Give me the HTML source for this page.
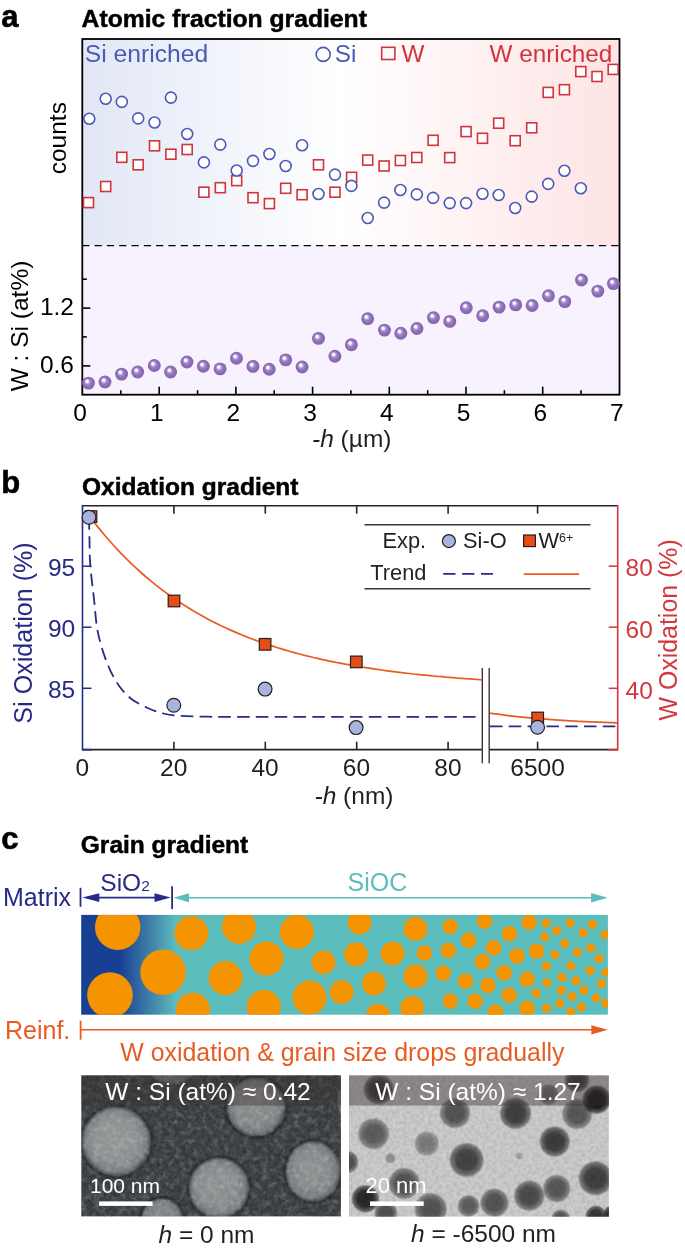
<!DOCTYPE html>
<html><head><meta charset="utf-8"><title>Gradient figure</title>
<style>
html,body{margin:0;padding:0;background:#fff;}
body{width:685px;height:1251px;overflow:hidden;}
svg{display:block;font-family:"Liberation Sans", sans-serif;will-change:transform;}
</style></head>
<body>
<svg width="685" height="1251" viewBox="0 0 685 1251">
<defs>
<linearGradient id="gtop" x1="0" x2="1" y1="0" y2="0">
 <stop offset="0" stop-color="#e1e7f5"/><stop offset="0.48" stop-color="#ffffff"/><stop offset="1" stop-color="#fee3e4"/>
</linearGradient>
<radialGradient id="gsph" cx="0.5" cy="0.5" r="0.5" fx="0.36" fy="0.32">
 <stop offset="0" stop-color="#ffffff"/><stop offset="0.17" stop-color="#fcfafd"/><stop offset="0.42" stop-color="#a58bc9"/>
 <stop offset="0.68" stop-color="#8e6eb8"/><stop offset="1" stop-color="#8464b0"/>
</radialGradient>
<linearGradient id="gbar" x1="0" x2="1" y1="0" y2="0">
 <stop offset="0" stop-color="#173f94"/><stop offset="0.072" stop-color="#173f94"/><stop offset="0.13" stop-color="#3f7fa8"/>
 <stop offset="0.18" stop-color="#5cbdbd"/><stop offset="1" stop-color="#5cbdbd"/>
</linearGradient>
<radialGradient id="pd"><stop offset="0" stop-color="#000"/><stop offset="0.55" stop-color="#000" stop-opacity="0.95"/><stop offset="0.85" stop-color="#000" stop-opacity="0.6"/><stop offset="1" stop-color="#000" stop-opacity="0"/></radialGradient>
<radialGradient id="pw" fx="0.45" fy="0.42"><stop offset="0" stop-color="#fff"/><stop offset="0.6" stop-color="#fff" stop-opacity="0.93"/><stop offset="0.86" stop-color="#fff" stop-opacity="0.74"/><stop offset="0.97" stop-color="#fff" stop-opacity="0.25"/><stop offset="1" stop-color="#fff" stop-opacity="0"/></radialGradient>
<radialGradient id="halo"><stop offset="0.8" stop-color="#000" stop-opacity="0"/><stop offset="0.9" stop-color="#000" stop-opacity="0.25"/><stop offset="1" stop-color="#000" stop-opacity="0"/></radialGradient>
<clipPath id="cbar"><rect x="81.2" y="914.9" width="526.7" height="99.8"/></clipPath>
<clipPath id="cm1"><rect x="81.2" y="1075.2" width="259.7" height="141.2"/></clipPath>
<clipPath id="cm2"><rect x="349.0" y="1075.2" width="259.9" height="141.5"/></clipPath>
<filter id="blur1" x="-20%" y="-20%" width="140%" height="140%"><feGaussianBlur stdDeviation="1.6"/></filter>
<filter id="blur2" x="-20%" y="-20%" width="140%" height="140%"><feGaussianBlur stdDeviation="1.2"/></filter>
<filter id="noise2" x="0" y="0" width="100%" height="100%">
 <feTurbulence type="fractalNoise" baseFrequency="0.16" numOctaves="3" seed="7"/>
 <feColorMatrix type="matrix" values="0 0 0 0 1  0 0 0 0 1  0 0 0 0 1  2.2 0 0 0 -1.0" />
</filter>
<filter id="noise1" x="0" y="0" width="100%" height="100%">
 <feTurbulence type="fractalNoise" baseFrequency="0.28" numOctaves="2" seed="3" result="n"/>
 <feColorMatrix type="matrix" values="0 0 0 0 0  0 0 0 0 0  0 0 0 0 0  0 0 0 -1.1 0.75" />
</filter>
</defs>
<rect x="82.3" y="39.0" width="537.2" height="206.0" fill="url(#gtop)"/>
<rect x="82.3" y="245.0" width="537.2" height="149.7" fill="#f7f2fe"/>
<line x1="82.3" y1="245.6" x2="619.5" y2="245.6" stroke="#000" stroke-width="1.3" stroke-dasharray="7.2 5.1"/>
<rect x="82.3" y="39.0" width="537.2" height="355.7" fill="none" stroke="#000" stroke-width="1.8"/>
<line x1="120.8" y1="394.7" x2="120.8" y2="390.2" stroke="#000" stroke-width="1.6"/>
<line x1="159.2" y1="394.7" x2="159.2" y2="386.7" stroke="#000" stroke-width="1.6"/>
<line x1="197.6" y1="394.7" x2="197.6" y2="390.2" stroke="#000" stroke-width="1.6"/>
<line x1="235.9" y1="394.7" x2="235.9" y2="386.7" stroke="#000" stroke-width="1.6"/>
<line x1="274.2" y1="394.7" x2="274.2" y2="390.2" stroke="#000" stroke-width="1.6"/>
<line x1="312.6" y1="394.7" x2="312.6" y2="386.7" stroke="#000" stroke-width="1.6"/>
<line x1="350.9" y1="394.7" x2="350.9" y2="390.2" stroke="#000" stroke-width="1.6"/>
<line x1="389.3" y1="394.7" x2="389.3" y2="386.7" stroke="#000" stroke-width="1.6"/>
<line x1="427.7" y1="394.7" x2="427.7" y2="390.2" stroke="#000" stroke-width="1.6"/>
<line x1="466.0" y1="394.7" x2="466.0" y2="386.7" stroke="#000" stroke-width="1.6"/>
<line x1="504.4" y1="394.7" x2="504.4" y2="390.2" stroke="#000" stroke-width="1.6"/>
<line x1="542.7" y1="394.7" x2="542.7" y2="386.7" stroke="#000" stroke-width="1.6"/>
<line x1="581.0" y1="394.7" x2="581.0" y2="390.2" stroke="#000" stroke-width="1.6"/>
<line x1="82.3" y1="279.2" x2="86.8" y2="279.2" stroke="#000" stroke-width="1.6"/>
<line x1="82.3" y1="308.1" x2="90.3" y2="308.1" stroke="#000" stroke-width="1.6"/>
<line x1="82.3" y1="336.9" x2="86.8" y2="336.9" stroke="#000" stroke-width="1.6"/>
<line x1="82.3" y1="365.9" x2="90.3" y2="365.9" stroke="#000" stroke-width="1.6"/>
<rect x="83.5" y="197.6" width="10" height="10" fill="#fff" stroke="#d1343a" stroke-width="1.6"/>
<rect x="100.7" y="181.5" width="10" height="10" fill="#fff" stroke="#d1343a" stroke-width="1.6"/>
<rect x="116.8" y="152.3" width="10" height="10" fill="#fff" stroke="#d1343a" stroke-width="1.6"/>
<rect x="133.2" y="159.8" width="10" height="10" fill="#fff" stroke="#d1343a" stroke-width="1.6"/>
<rect x="149.5" y="140.8" width="10" height="10" fill="#fff" stroke="#d1343a" stroke-width="1.6"/>
<rect x="165.9" y="149.2" width="10" height="10" fill="#fff" stroke="#d1343a" stroke-width="1.6"/>
<rect x="182.2" y="144.5" width="10" height="10" fill="#fff" stroke="#d1343a" stroke-width="1.6"/>
<rect x="198.9" y="187.2" width="10" height="10" fill="#fff" stroke="#d1343a" stroke-width="1.6"/>
<rect x="215.3" y="182.7" width="10" height="10" fill="#fff" stroke="#d1343a" stroke-width="1.6"/>
<rect x="231.7" y="175.6" width="10" height="10" fill="#fff" stroke="#d1343a" stroke-width="1.6"/>
<rect x="248.0" y="192.7" width="10" height="10" fill="#fff" stroke="#d1343a" stroke-width="1.6"/>
<rect x="264.4" y="198.6" width="10" height="10" fill="#fff" stroke="#d1343a" stroke-width="1.6"/>
<rect x="280.7" y="183.3" width="10" height="10" fill="#fff" stroke="#d1343a" stroke-width="1.6"/>
<rect x="297.1" y="189.7" width="10" height="10" fill="#fff" stroke="#d1343a" stroke-width="1.6"/>
<rect x="313.5" y="159.8" width="10" height="10" fill="#fff" stroke="#d1343a" stroke-width="1.6"/>
<rect x="330.0" y="187.2" width="10" height="10" fill="#fff" stroke="#d1343a" stroke-width="1.6"/>
<rect x="346.6" y="172.3" width="10" height="10" fill="#fff" stroke="#d1343a" stroke-width="1.6"/>
<rect x="362.7" y="155.1" width="10" height="10" fill="#fff" stroke="#d1343a" stroke-width="1.6"/>
<rect x="379.1" y="161.0" width="10" height="10" fill="#fff" stroke="#d1343a" stroke-width="1.6"/>
<rect x="395.4" y="155.5" width="10" height="10" fill="#fff" stroke="#d1343a" stroke-width="1.6"/>
<rect x="411.8" y="152.5" width="10" height="10" fill="#fff" stroke="#d1343a" stroke-width="1.6"/>
<rect x="428.1" y="135.3" width="10" height="10" fill="#fff" stroke="#d1343a" stroke-width="1.6"/>
<rect x="444.7" y="152.6" width="10" height="10" fill="#fff" stroke="#d1343a" stroke-width="1.6"/>
<rect x="461.1" y="126.6" width="10" height="10" fill="#fff" stroke="#d1343a" stroke-width="1.6"/>
<rect x="477.5" y="133.3" width="10" height="10" fill="#fff" stroke="#d1343a" stroke-width="1.6"/>
<rect x="493.7" y="118.2" width="10" height="10" fill="#fff" stroke="#d1343a" stroke-width="1.6"/>
<rect x="510.2" y="135.7" width="10" height="10" fill="#fff" stroke="#d1343a" stroke-width="1.6"/>
<rect x="526.7" y="122.8" width="10" height="10" fill="#fff" stroke="#d1343a" stroke-width="1.6"/>
<rect x="543.2" y="87.4" width="10" height="10" fill="#fff" stroke="#d1343a" stroke-width="1.6"/>
<rect x="559.4" y="84.7" width="10" height="10" fill="#fff" stroke="#d1343a" stroke-width="1.6"/>
<rect x="575.8" y="66.6" width="10" height="10" fill="#fff" stroke="#d1343a" stroke-width="1.6"/>
<rect x="592.0" y="71.5" width="10" height="10" fill="#fff" stroke="#d1343a" stroke-width="1.6"/>
<rect x="608.2" y="64.4" width="10" height="10" fill="#fff" stroke="#d1343a" stroke-width="1.6"/>
<circle cx="89.3" cy="118.8" r="5.5" fill="#fff" stroke="#4d5ab5" stroke-width="1.6"/>
<circle cx="105.7" cy="98.8" r="5.5" fill="#fff" stroke="#4d5ab5" stroke-width="1.6"/>
<circle cx="121.8" cy="101.9" r="5.5" fill="#fff" stroke="#4d5ab5" stroke-width="1.6"/>
<circle cx="138.2" cy="118.4" r="5.5" fill="#fff" stroke="#4d5ab5" stroke-width="1.6"/>
<circle cx="154.5" cy="122.5" r="5.5" fill="#fff" stroke="#4d5ab5" stroke-width="1.6"/>
<circle cx="170.9" cy="97.6" r="5.5" fill="#fff" stroke="#4d5ab5" stroke-width="1.6"/>
<circle cx="187.2" cy="134.0" r="5.5" fill="#fff" stroke="#4d5ab5" stroke-width="1.6"/>
<circle cx="203.9" cy="162.4" r="5.5" fill="#fff" stroke="#4d5ab5" stroke-width="1.6"/>
<circle cx="220.3" cy="144.6" r="5.5" fill="#fff" stroke="#4d5ab5" stroke-width="1.6"/>
<circle cx="236.7" cy="170.5" r="5.5" fill="#fff" stroke="#4d5ab5" stroke-width="1.6"/>
<circle cx="253.0" cy="160.9" r="5.5" fill="#fff" stroke="#4d5ab5" stroke-width="1.6"/>
<circle cx="269.4" cy="154.0" r="5.5" fill="#fff" stroke="#4d5ab5" stroke-width="1.6"/>
<circle cx="285.7" cy="166.0" r="5.5" fill="#fff" stroke="#4d5ab5" stroke-width="1.6"/>
<circle cx="302.1" cy="145.2" r="5.5" fill="#fff" stroke="#4d5ab5" stroke-width="1.6"/>
<circle cx="318.5" cy="194.0" r="5.5" fill="#fff" stroke="#4d5ab5" stroke-width="1.6"/>
<circle cx="335.0" cy="174.6" r="5.5" fill="#fff" stroke="#4d5ab5" stroke-width="1.6"/>
<circle cx="351.4" cy="185.9" r="5.5" fill="#fff" stroke="#4d5ab5" stroke-width="1.6"/>
<circle cx="367.7" cy="218.0" r="5.5" fill="#fff" stroke="#4d5ab5" stroke-width="1.6"/>
<circle cx="384.1" cy="202.6" r="5.5" fill="#fff" stroke="#4d5ab5" stroke-width="1.6"/>
<circle cx="400.4" cy="190.0" r="5.5" fill="#fff" stroke="#4d5ab5" stroke-width="1.6"/>
<circle cx="416.8" cy="194.4" r="5.5" fill="#fff" stroke="#4d5ab5" stroke-width="1.6"/>
<circle cx="433.1" cy="197.9" r="5.5" fill="#fff" stroke="#4d5ab5" stroke-width="1.6"/>
<circle cx="449.7" cy="203.1" r="5.5" fill="#fff" stroke="#4d5ab5" stroke-width="1.6"/>
<circle cx="466.1" cy="203.1" r="5.5" fill="#fff" stroke="#4d5ab5" stroke-width="1.6"/>
<circle cx="482.5" cy="193.7" r="5.5" fill="#fff" stroke="#4d5ab5" stroke-width="1.6"/>
<circle cx="498.7" cy="195.0" r="5.5" fill="#fff" stroke="#4d5ab5" stroke-width="1.6"/>
<circle cx="515.2" cy="208.0" r="5.5" fill="#fff" stroke="#4d5ab5" stroke-width="1.6"/>
<circle cx="531.7" cy="196.6" r="5.5" fill="#fff" stroke="#4d5ab5" stroke-width="1.6"/>
<circle cx="548.2" cy="183.9" r="5.5" fill="#fff" stroke="#4d5ab5" stroke-width="1.6"/>
<circle cx="564.4" cy="170.7" r="5.5" fill="#fff" stroke="#4d5ab5" stroke-width="1.6"/>
<circle cx="580.8" cy="188.3" r="5.5" fill="#fff" stroke="#4d5ab5" stroke-width="1.6"/>
<circle cx="88.5" cy="383.1" r="6.45" fill="url(#gsph)"/>
<circle cx="105.0" cy="382.0" r="6.45" fill="url(#gsph)"/>
<circle cx="121.6" cy="374.1" r="6.45" fill="url(#gsph)"/>
<circle cx="137.7" cy="372.0" r="6.45" fill="url(#gsph)"/>
<circle cx="154.3" cy="365.5" r="6.45" fill="url(#gsph)"/>
<circle cx="170.6" cy="372.0" r="6.45" fill="url(#gsph)"/>
<circle cx="187.0" cy="362.0" r="6.45" fill="url(#gsph)"/>
<circle cx="203.4" cy="366.3" r="6.45" fill="url(#gsph)"/>
<circle cx="220.1" cy="368.9" r="6.45" fill="url(#gsph)"/>
<circle cx="236.5" cy="358.2" r="6.45" fill="url(#gsph)"/>
<circle cx="253.0" cy="366.4" r="6.45" fill="url(#gsph)"/>
<circle cx="269.2" cy="369.3" r="6.45" fill="url(#gsph)"/>
<circle cx="285.7" cy="359.9" r="6.45" fill="url(#gsph)"/>
<circle cx="302.1" cy="367.0" r="6.45" fill="url(#gsph)"/>
<circle cx="318.5" cy="338.4" r="6.45" fill="url(#gsph)"/>
<circle cx="334.9" cy="356.2" r="6.45" fill="url(#gsph)"/>
<circle cx="351.4" cy="344.8" r="6.45" fill="url(#gsph)"/>
<circle cx="367.7" cy="318.7" r="6.45" fill="url(#gsph)"/>
<circle cx="384.5" cy="330.1" r="6.45" fill="url(#gsph)"/>
<circle cx="400.8" cy="333.2" r="6.45" fill="url(#gsph)"/>
<circle cx="417.0" cy="328.5" r="6.45" fill="url(#gsph)"/>
<circle cx="433.5" cy="317.6" r="6.45" fill="url(#gsph)"/>
<circle cx="449.8" cy="321.4" r="6.45" fill="url(#gsph)"/>
<circle cx="466.3" cy="307.7" r="6.45" fill="url(#gsph)"/>
<circle cx="482.7" cy="315.7" r="6.45" fill="url(#gsph)"/>
<circle cx="499.1" cy="307.1" r="6.45" fill="url(#gsph)"/>
<circle cx="515.7" cy="304.9" r="6.45" fill="url(#gsph)"/>
<circle cx="532.1" cy="305.5" r="6.45" fill="url(#gsph)"/>
<circle cx="548.5" cy="295.8" r="6.45" fill="url(#gsph)"/>
<circle cx="564.8" cy="301.6" r="6.45" fill="url(#gsph)"/>
<circle cx="581.5" cy="280.0" r="6.45" fill="url(#gsph)"/>
<circle cx="597.8" cy="291.1" r="6.45" fill="url(#gsph)"/>
<circle cx="613.4" cy="283.6" r="6.45" fill="url(#gsph)"/>
<text x="1.2" y="26.9" font-size="31" font-weight="bold" fill="#000" stroke="#000" stroke-width="0.6">a</text>
<text x="81.6" y="26.9" font-size="24.7" font-weight="bold" fill="#000" stroke="#000" stroke-width="0.5">Atomic fraction gradient</text>
<text x="84.8" y="62" font-size="24.7" fill="#4d5ab5">Si enriched</text>
<circle cx="323.2" cy="54.4" r="7.0" fill="none" stroke="#4d5ab5" stroke-width="1.6"/>
<text x="334.8" y="61.7" font-size="24.3" fill="#4d5ab5">Si</text>
<rect x="381.7" y="47.3" width="13.2" height="12.2" fill="none" stroke="#d1343a" stroke-width="1.6"/>
<text x="401.5" y="61.7" font-size="24.3" fill="#d1343a">W</text>
<text x="489.5" y="61.7" font-size="24.3" fill="#d1343a">W enriched</text>
<text transform="translate(66,138.2) rotate(-90)" text-anchor="middle" font-size="24.5" fill="#000">counts</text>
<text transform="translate(27.9,326) rotate(-90)" text-anchor="middle" font-size="24.5" fill="#000">W : Si (at%)</text>
<text x="74" y="315" text-anchor="end" font-size="24.5" fill="#000">1.2</text>
<text x="74" y="373" text-anchor="end" font-size="24.5" fill="#000">0.6</text>
<text x="80.0" y="421.2" text-anchor="middle" font-size="24.5" fill="#000">0</text>
<text x="156.7" y="421.2" text-anchor="middle" font-size="24.5" fill="#000">1</text>
<text x="233.4" y="421.2" text-anchor="middle" font-size="24.5" fill="#000">2</text>
<text x="310.1" y="421.2" text-anchor="middle" font-size="24.5" fill="#000">3</text>
<text x="386.8" y="421.2" text-anchor="middle" font-size="24.5" fill="#000">4</text>
<text x="463.5" y="421.2" text-anchor="middle" font-size="24.5" fill="#000">5</text>
<text x="540.2" y="421.2" text-anchor="middle" font-size="24.5" fill="#000">6</text>
<text x="616.9" y="421.2" text-anchor="middle" font-size="24.5" fill="#000">7</text>
<text x="312" y="446.6" font-size="24.5" fill="#231f20"><tspan font-style="italic">-h</tspan> (µm)</text>
<text x="1.2" y="492.7" font-size="31" font-weight="bold" fill="#000" stroke="#000" stroke-width="0.6">b</text>
<text x="82" y="494.5" font-size="24.5" font-weight="bold" fill="#000" stroke="#000" stroke-width="0.5">Oxidation gradient</text>
<line x1="82.5" y1="505.7" x2="617.7" y2="505.7" stroke="#2b2323" stroke-width="1.6"/>
<line x1="82.5" y1="749.7" x2="482.3" y2="749.7" stroke="#2b2323" stroke-width="1.7"/>
<line x1="489.2" y1="749.7" x2="617.7" y2="749.7" stroke="#2b2323" stroke-width="1.7"/>
<line x1="82.5" y1="749.7" x2="92.0" y2="749.7" stroke="#272b88" stroke-width="1.7"/>
<line x1="608.2" y1="749.7" x2="617.7" y2="749.7" stroke="#d2383d" stroke-width="1.7"/>
<line x1="82.5" y1="504.9" x2="82.5" y2="750.5" stroke="#272b88" stroke-width="1.6"/>
<line x1="617.7" y1="504.9" x2="617.7" y2="750.5" stroke="#d2383d" stroke-width="1.6"/>
<rect x="482.6" y="700" width="6.3" height="60" fill="#fff"/>
<line x1="482.3" y1="668.1" x2="482.3" y2="763.3" stroke="#3d3535" stroke-width="1.4"/>
<line x1="489.2" y1="668.1" x2="489.2" y2="763.3" stroke="#3d3535" stroke-width="1.4"/>
<line x1="173.9" y1="749.7" x2="173.9" y2="741.7" stroke="#2b2323" stroke-width="1.6"/>
<line x1="173.9" y1="505.7" x2="173.9" y2="513.7" stroke="#2b2323" stroke-width="1.6"/>
<line x1="265.3" y1="749.7" x2="265.3" y2="741.7" stroke="#2b2323" stroke-width="1.6"/>
<line x1="265.3" y1="505.7" x2="265.3" y2="513.7" stroke="#2b2323" stroke-width="1.6"/>
<line x1="356.7" y1="749.7" x2="356.7" y2="741.7" stroke="#2b2323" stroke-width="1.6"/>
<line x1="356.7" y1="505.7" x2="356.7" y2="513.7" stroke="#2b2323" stroke-width="1.6"/>
<line x1="448.1" y1="749.7" x2="448.1" y2="741.7" stroke="#2b2323" stroke-width="1.6"/>
<line x1="448.1" y1="505.7" x2="448.1" y2="513.7" stroke="#2b2323" stroke-width="1.6"/>
<line x1="537.6" y1="749.7" x2="537.6" y2="741.7" stroke="#2b2323" stroke-width="1.6"/>
<line x1="537.6" y1="505.7" x2="537.6" y2="513.7" stroke="#2b2323" stroke-width="1.6"/>
<line x1="82.5" y1="566.2" x2="91.5" y2="566.2" stroke="#272b88" stroke-width="1.5"/>
<line x1="608.7" y1="566.2" x2="617.7" y2="566.2" stroke="#d2383d" stroke-width="1.5"/>
<line x1="82.5" y1="627.2" x2="91.5" y2="627.2" stroke="#272b88" stroke-width="1.5"/>
<line x1="608.7" y1="627.2" x2="617.7" y2="627.2" stroke="#d2383d" stroke-width="1.5"/>
<line x1="82.5" y1="688.3" x2="91.5" y2="688.3" stroke="#272b88" stroke-width="1.5"/>
<line x1="608.7" y1="688.3" x2="617.7" y2="688.3" stroke="#d2383d" stroke-width="1.5"/>
<text x="75.2" y="576.0" text-anchor="end" font-size="24.5" fill="#272b88">95</text>
<text x="75.2" y="637.0" text-anchor="end" font-size="24.5" fill="#272b88">90</text>
<text x="75.2" y="698.0999999999999" text-anchor="end" font-size="24.5" fill="#272b88">85</text>
<text x="625.5" y="576.3" font-size="24.5" fill="#d2383d">80</text>
<text x="625.5" y="637.6999999999999" font-size="24.5" fill="#d2383d">60</text>
<text x="625.5" y="698.5999999999999" font-size="24.5" fill="#d2383d">40</text>
<text transform="translate(32.4,633.0) rotate(-90)" text-anchor="middle" font-size="25.1" fill="#272b88">Si Oxidation (%)</text>
<text transform="translate(676.8,629.9) rotate(-90)" text-anchor="middle" font-size="24.9" fill="#d2383d">W Oxidation (%)</text>
<text x="82.3" y="775.8" text-anchor="middle" font-size="24.5" fill="#231f20">0</text>
<text x="173.7" y="775.8" text-anchor="middle" font-size="24.5" fill="#231f20">20</text>
<text x="265.1" y="775.8" text-anchor="middle" font-size="24.5" fill="#231f20">40</text>
<text x="356.5" y="775.8" text-anchor="middle" font-size="24.5" fill="#231f20">60</text>
<text x="447.9" y="775.8" text-anchor="middle" font-size="24.5" fill="#231f20">80</text>
<text x="537.6" y="775.8" text-anchor="middle" font-size="24.5" fill="#231f20">6500</text>
<text x="314.5" y="803.7" font-size="24.5" fill="#231f20"><tspan font-style="italic">-h</tspan> (nm)</text>
<polyline points="89.5,516.3 93.5,521.5 97.5,526.6 101.5,531.4 105.5,536.2 109.5,540.8 113.5,545.3 117.5,549.6 121.5,553.8 125.5,557.9 129.5,561.8 133.5,565.7 137.5,569.4 141.5,573.0 145.5,576.5 149.5,579.8 153.5,583.1 157.5,586.3 161.5,589.4 165.5,592.4 169.5,595.3 173.5,598.1 177.5,600.8 181.5,603.5 185.5,606.0 189.5,608.5 193.5,611.0 197.5,613.3 201.5,615.6 205.5,617.8 209.5,619.9 213.5,622.0 217.5,624.0 221.5,625.9 225.5,627.8 229.5,629.6 233.5,631.4 237.5,633.1 241.5,634.8 245.5,636.4 249.5,638.0 253.5,639.5 257.5,641.0 261.5,642.4 265.5,643.8 269.5,645.1 273.5,646.4 277.5,647.7 281.5,648.9 285.5,650.1 289.5,651.3 293.5,652.4 297.5,653.5 301.5,654.5 305.5,655.6 309.5,656.5 313.5,657.5 317.5,658.4 321.5,659.3 325.5,660.2 329.5,661.1 333.5,661.9 337.5,662.7 341.5,663.4 345.5,664.2 349.5,664.9 353.5,665.6 357.5,666.3 361.5,667.0 365.5,667.6 369.5,668.2 373.5,668.8 377.5,669.4 381.5,670.0 385.5,670.6 389.5,671.1 393.5,671.6 397.5,672.1 401.5,672.6 405.5,673.1 409.5,673.5 413.5,674.0 417.5,674.4 421.5,674.8 425.5,675.2 429.5,675.6 433.5,676.0 437.5,676.4 441.5,676.7 445.5,677.1 449.5,677.4 453.5,677.7 457.5,678.1 461.5,678.4 465.5,678.7 469.5,678.9 473.5,679.2 477.5,679.5 481.5,679.8 481.6,679.8" fill="none" stroke="#ea5b24" stroke-width="1.7"/>
<path d="M490.0,713.1 C494.2,713.6 507.1,715.5 515.0,716.4 C522.9,717.3 530.3,717.9 537.6,718.5 C544.9,719.1 550.3,719.6 559.0,720.2 C567.7,720.8 580.3,721.5 590.0,721.9 C599.7,722.3 612.5,722.7 617.0,722.9" fill="none" stroke="#ea5b24" stroke-width="1.7"/>
<path d="M89.0,517.3 C89.1,521.1 89.3,531.9 89.5,540.0 C89.7,548.1 89.5,555.7 90.3,565.7 C91.1,575.7 93.0,589.7 94.1,600.0 C95.2,610.3 95.7,619.6 97.0,627.5 C98.3,635.4 99.7,640.6 101.7,647.4 C103.8,654.2 106.5,662.0 109.3,668.3 C112.1,674.6 115.2,680.3 118.8,685.4 C122.4,690.5 126.2,694.9 131.1,698.7 C136.0,702.5 142.8,705.7 148.2,708.2 C153.6,710.7 158.3,712.2 163.4,713.5 C168.5,714.8 171.2,715.3 178.6,715.8 C186.0,716.3 196.1,716.5 208.0,716.7 C219.9,716.9 204.5,716.8 250.0,716.8 C295.5,716.8 442.5,716.8 481.0,716.8" fill="none" stroke="#272b88" stroke-width="1.8" stroke-dasharray="12.5 6.3"/>
<line x1="490" y1="726.3" x2="617" y2="726.3" stroke="#272b88" stroke-width="1.8" stroke-dasharray="12.5 6.3"/>
<rect x="85.2" y="510.8" width="11.6" height="11.6" fill="#e84c17" stroke="#231f20" stroke-width="1.2"/>
<rect x="168.2" y="595.2" width="11.6" height="11.6" fill="#e84c17" stroke="#231f20" stroke-width="1.2"/>
<rect x="259.3" y="638.5" width="11.6" height="11.6" fill="#e84c17" stroke="#231f20" stroke-width="1.2"/>
<rect x="350.5" y="656.1" width="11.6" height="11.6" fill="#e84c17" stroke="#231f20" stroke-width="1.2"/>
<rect x="531.9" y="712.2" width="11.6" height="11.6" fill="#e84c17" stroke="#231f20" stroke-width="1.2"/>
<circle cx="89.0" cy="517.3" r="6.9" fill="#a9b3df" stroke="#231f20" stroke-width="1.2"/>
<circle cx="173.8" cy="705.3" r="6.9" fill="#a9b3df" stroke="#231f20" stroke-width="1.2"/>
<circle cx="265.1" cy="689.1" r="6.9" fill="#a9b3df" stroke="#231f20" stroke-width="1.2"/>
<circle cx="356.1" cy="727.6" r="6.9" fill="#a9b3df" stroke="#231f20" stroke-width="1.2"/>
<circle cx="537.6" cy="727.3" r="6.9" fill="#a9b3df" stroke="#231f20" stroke-width="1.2"/>
<line x1="364.5" y1="524.7" x2="590.5" y2="524.7" stroke="#3a3434" stroke-width="1.4"/>
<line x1="364.5" y1="588.7" x2="590.5" y2="588.7" stroke="#3a3434" stroke-width="1.4"/>
<text x="382.5" y="548" font-size="21.8" fill="#231f20">Exp.</text>
<circle cx="448.9" cy="541.1" r="6.5" fill="#a9b3df" stroke="#231f20" stroke-width="1.2"/>
<text x="463" y="548" font-size="21.8" fill="#231f20">Si-O</text>
<rect x="523.6" y="535" width="11.8" height="11.6" fill="#e84c17" stroke="#231f20" stroke-width="1.2"/>
<text x="538.5" y="548" font-size="21.8" fill="#231f20">W<tspan font-size="12.5" dy="-6.5">6+</tspan></text>
<text x="370.3" y="580.4" font-size="21.8" fill="#231f20">Trend</text>
<line x1="443.2" y1="573.9" x2="493" y2="573.9" stroke="#272b88" stroke-width="1.7" stroke-dasharray="12.3 6.6"/>
<line x1="523.7" y1="574.1" x2="579.1" y2="574.1" stroke="#ea5b24" stroke-width="1.7"/>
<text x="1.2" y="849.2" font-size="31" font-weight="bold" fill="#000" stroke="#000" stroke-width="0.6">c</text>
<text x="80.8" y="852.7" font-size="24.5" font-weight="bold" fill="#000" stroke="#000" stroke-width="0.5">Grain gradient</text>
<text x="3" y="906.2" font-size="25" fill="#272b88">Matrix</text>
<line x1="80.5" y1="887.8" x2="80.5" y2="906.8" stroke="#272b88" stroke-width="1.8"/>
<line x1="90" y1="897.6" x2="163" y2="897.6" stroke="#272b88" stroke-width="1.6"/>
<path d="M82.4,897.6 L99.3,893.3 L99.3,901.9 Z" fill="#272b88"/>
<path d="M170.8,897.6 L154.5,893.3 L154.5,901.9 Z" fill="#272b88"/>
<line x1="172.1" y1="886.3" x2="172.1" y2="909" stroke="#272b88" stroke-width="1.8"/>
<text x="100.3" y="890.6" font-size="24.5" fill="#272b88">SiO<tspan font-size="15.5">2</tspan></text>
<line x1="185" y1="897.8" x2="595" y2="897.8" stroke="#5cbdbd" stroke-width="1.6"/>
<path d="M173.4,897.8 L189,893.3 L189,902.3 Z" fill="#5cbdbd"/>
<path d="M607.9,897.8 L591.1,893.1 L591.1,902.5 Z" fill="#5cbdbd"/>
<text x="347.5" y="890.7" font-size="25" fill="#5cbdbd">SiOC</text>
<rect x="81.2" y="914.9" width="526.7" height="99.8" fill="url(#gbar)"/>
<g clip-path="url(#cbar)" fill="#f39400"><circle cx="117.7" cy="927.2" r="22.7"/><circle cx="110" cy="995.1" r="22.8"/><circle cx="163.1" cy="972.3" r="22.8"/><circle cx="191.4" cy="933.2" r="17"/><circle cx="193" cy="1009.7" r="17"/><circle cx="239" cy="926.8" r="17"/><circle cx="225.6" cy="978" r="17"/><circle cx="266.5" cy="958.6" r="17"/><circle cx="263.8" cy="1007" r="17"/><circle cx="296.8" cy="932" r="17"/><circle cx="309.5" cy="997.6" r="17"/><circle cx="323.5" cy="962.3" r="11.9"/><circle cx="341.6" cy="992.1" r="11.9"/><circle cx="359.5" cy="922.5" r="11.9"/><circle cx="355.9" cy="954.5" r="11.9"/><circle cx="392.6" cy="953.6" r="11.9"/><circle cx="373.9" cy="983.6" r="11.9"/><circle cx="378" cy="1015.6" r="11.9"/><circle cx="415.4" cy="928.9" r="11.9"/><circle cx="415.4" cy="976.5" r="11.9"/><circle cx="412.2" cy="1007.8" r="11.9"/><circle cx="424.4" cy="953" r="7.7"/><circle cx="450.2" cy="926.4" r="7.7"/><circle cx="448.3" cy="950.5" r="7.7"/><circle cx="443.3" cy="973.3" r="7.7"/><circle cx="450.2" cy="1001.1" r="7.7"/><circle cx="468.5" cy="940.2" r="7.7"/><circle cx="484.5" cy="921.2" r="7.7"/><circle cx="493.6" cy="948" r="7.7"/><circle cx="482.3" cy="961.8" r="7.7"/><circle cx="465.5" cy="981.2" r="7.7"/><circle cx="487.9" cy="985.5" r="7.7"/><circle cx="475" cy="1001.2" r="7.7"/><circle cx="495.5" cy="1012.2" r="7.7"/><circle cx="509.3" cy="933.8" r="7.7"/><circle cx="529.1" cy="922.4" r="7.7"/><circle cx="516.9" cy="956" r="7.7"/><circle cx="504.2" cy="972.8" r="7.7"/><circle cx="509.3" cy="995.1" r="7.7"/><circle cx="527.1" cy="979.4" r="7.7"/><circle cx="527.1" cy="1008.3" r="7.7"/><circle cx="536.6" cy="951.2" r="7.7"/><circle cx="536.1" cy="993.3" r="4.5"/><circle cx="546.2" cy="923" r="4.5"/><circle cx="556.7" cy="930.8" r="4.5"/><circle cx="544.8" cy="936.9" r="4.5"/><circle cx="570.1" cy="923" r="4.5"/><circle cx="592.5" cy="924.5" r="4.5"/><circle cx="583.1" cy="932.8" r="4.5"/><circle cx="605" cy="934.6" r="4.5"/><circle cx="564.7" cy="943.3" r="4.5"/><circle cx="590.8" cy="947.9" r="4.5"/><circle cx="577.3" cy="952.3" r="4.5"/><circle cx="554.9" cy="954.6" r="4.5"/><circle cx="599" cy="958.6" r="4.5"/><circle cx="546.2" cy="966.1" r="4.5"/><circle cx="570.8" cy="966.1" r="4.5"/><circle cx="590.1" cy="970.7" r="4.5"/><circle cx="606" cy="972.4" r="4.5"/><circle cx="562" cy="977.4" r="4.5"/><circle cx="575.7" cy="980.8" r="4.5"/><circle cx="546.9" cy="982.8" r="4.5"/><circle cx="601.5" cy="983.6" r="4.5"/><circle cx="561.6" cy="990.3" r="4.5"/><circle cx="583.8" cy="990.3" r="4.5"/><circle cx="572.1" cy="996.4" r="4.5"/><circle cx="596.1" cy="998" r="4.5"/><circle cx="559.9" cy="1003.3" r="4.5"/><circle cx="546.5" cy="1008" r="4.5"/><circle cx="581.4" cy="1007" r="4.5"/><circle cx="570.8" cy="1012.1" r="4.5"/><circle cx="606" cy="1003.3" r="4.5"/></g>
<text x="5" y="1039" font-size="25" fill="#e85c22">Reinf.</text>
<line x1="80.6" y1="1020.7" x2="80.6" y2="1039.7" stroke="#e85c22" stroke-width="1.8"/>
<line x1="80.6" y1="1029.8" x2="594" y2="1029.8" stroke="#e85c22" stroke-width="1.6"/>
<path d="M607.7,1029.8 L591.4,1025.2 L591.4,1034.4 Z" fill="#e85c22"/>
<text x="120.3" y="1061.2" font-size="24.9" fill="#e85c22">W oxidation &amp; grain size drops gradually</text>
<g clip-path="url(#cm1)"><rect x="81.2" y="1075.2" width="260.7" height="141.5" fill="#42474a"/><rect x="81.2" y="1075.2" width="260.7" height="141.5" fill="#000" filter="url(#noise1)" opacity="0.5"/><rect x="81.2" y="1075.2" width="260.7" height="141.5" fill="#000" filter="url(#noise2)" opacity="0.22"/><circle cx="116.3" cy="1141.5" r="39" fill="url(#halo)" /><circle cx="256.0" cy="1107" r="34" fill="url(#halo)" /><circle cx="219" cy="1188" r="34.5" fill="url(#halo)" /><circle cx="162" cy="1219" r="24.5" fill="url(#halo)" /><circle cx="116.3" cy="1141.5" r="35.5" fill="url(#pw)" opacity="0.46"/><circle cx="256.0" cy="1107" r="30" fill="url(#pw)" opacity="0.42"/><circle cx="219" cy="1188" r="31" fill="url(#pw)" opacity="0.44"/><circle cx="162" cy="1219" r="21" fill="url(#pw)" opacity="0.38"/><circle cx="360" cy="1102" r="24" fill="url(#pw)" opacity="0.3"/><circle cx="172" cy="1060" r="26" fill="url(#pw)" opacity="0.35"/><ellipse cx="313" cy="1171.5" rx="31.5" ry="34.5" fill="url(#halo)"/><ellipse cx="313" cy="1171.5" rx="28" ry="31" fill="url(#pw)" opacity="0.43"/><rect x="81.2" y="1075.2" width="260.7" height="30.4" fill="#3c3030" opacity="0.43"/></g>
<text x="105.3" y="1099.7" font-size="24.5" fill="#fff">W : Si (at%) ≈ 0.42</text>
<text x="90" y="1192.6" font-size="21" fill="#fff">100 nm</text>
<rect x="99.1" y="1201.4" width="53.5" height="4.5" fill="#fff"/>
<g clip-path="url(#cm2)"><rect x="349" y="1075.2" width="259.9" height="141.5" fill="#cdcdcd"/><rect x="349" y="1075.2" width="259.9" height="141.5" fill="#000" filter="url(#noise1)" opacity="0.18"/><circle cx="378.7" cy="1089.4" r="16" fill="url(#pd)" opacity="0.72"/><circle cx="455" cy="1113" r="16" fill="url(#pd)" opacity="0.6"/><circle cx="373.6" cy="1133.8" r="16.5" fill="url(#pd)" opacity="0.55"/><circle cx="426.7" cy="1143.6" r="13" fill="url(#pd)" opacity="0.4"/><circle cx="390.4" cy="1158.3" r="5.5" fill="url(#pd)" opacity="0.3"/><circle cx="466.6" cy="1160" r="18" fill="url(#pd)" opacity="0.68"/><circle cx="347" cy="1162" r="12" fill="url(#pd)" opacity="0.62"/><circle cx="404.3" cy="1183.4" r="16.5" fill="url(#pd)" opacity="0.6"/><circle cx="365.4" cy="1198.8" r="14.5" fill="url(#pd)" opacity="0.82"/><circle cx="430.8" cy="1209" r="17" fill="url(#pd)" opacity="0.6"/><circle cx="468.6" cy="1206" r="11.5" fill="url(#pd)" opacity="0.55"/><circle cx="385.9" cy="1213" r="12" fill="url(#pd)" opacity="0.62"/><circle cx="515.5" cy="1113.3" r="16.5" fill="url(#pd)" opacity="0.7"/><circle cx="577.2" cy="1114" r="16" fill="url(#pd)" opacity="0.58"/><circle cx="596.6" cy="1099.6" r="15" fill="url(#pd)" opacity="0.9"/><circle cx="577" cy="1080" r="13" fill="url(#pd)" opacity="0.7"/><circle cx="554.7" cy="1141.5" r="16" fill="url(#pd)" opacity="0.72"/><circle cx="595.6" cy="1178.3" r="18" fill="url(#pd)" opacity="0.7"/><circle cx="556.7" cy="1188.5" r="14.5" fill="url(#pd)" opacity="0.58"/><circle cx="529.2" cy="1195.7" r="16" fill="url(#pd)" opacity="0.64"/><circle cx="494.4" cy="1202.8" r="15" fill="url(#pd)" opacity="0.6"/><circle cx="548.6" cy="1094.5" r="11" fill="url(#pd)" opacity="0.45"/><circle cx="596" cy="1216" r="11" fill="url(#pd)" opacity="0.75"/><circle cx="612" cy="1214" r="9" fill="url(#pd)" opacity="0.8"/><circle cx="560.8" cy="1219" r="10" fill="url(#pd)" opacity="0.6"/><circle cx="519" cy="1156" r="4" fill="url(#pd)" opacity="0.2"/><rect x="349" y="1075.2" width="259.9" height="30.4" fill="#3c3030" opacity="0.43"/></g>
<text x="375.3" y="1099.7" font-size="24.5" fill="#fff">W : Si (at%) ≈ 1.27</text>
<text x="365.5" y="1192.6" font-size="22" fill="#fff">20 nm</text>
<rect x="370" y="1201.4" width="53.7" height="4.5" fill="#fff"/>
<text x="206.5" y="1242.6" text-anchor="middle" font-size="24.5" fill="#231f20"><tspan font-style="italic">h</tspan> = 0 nm</text>
<text x="483.5" y="1242.4" text-anchor="middle" font-size="24.5" fill="#231f20"><tspan font-style="italic">h</tspan> = -6500 nm</text>
</svg>
</body></html>
